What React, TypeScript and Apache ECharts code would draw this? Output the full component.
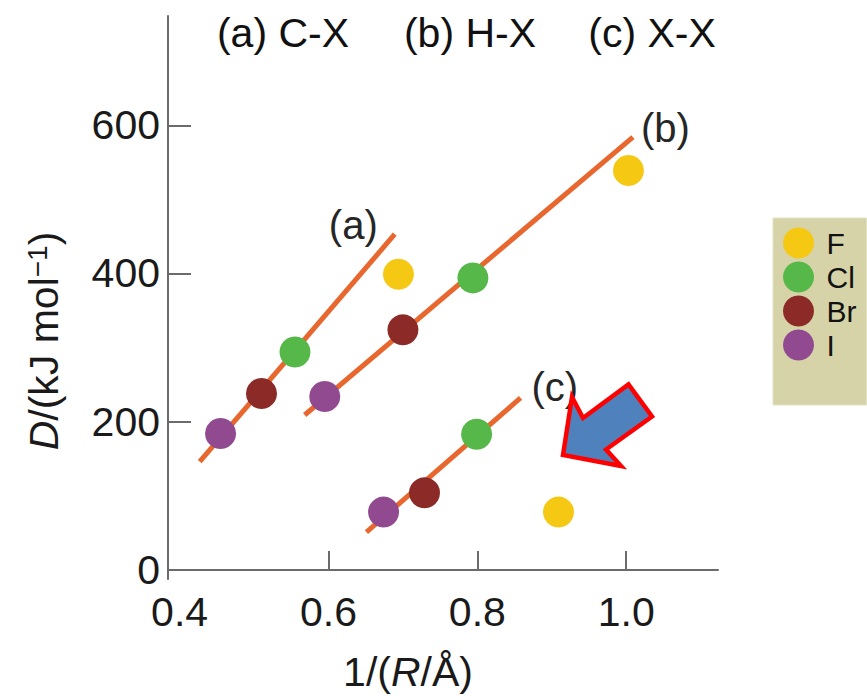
import React, { useEffect, useRef } from "react";
import * as echarts from "echarts";

const elements = ["F", "Cl", "Br", "I"];
const elementColors = ["#f5c814", "#55b848", "#8c2a27", "#914a8f"];
// (a) C-X
const cxR = [0.694, 0.555, 0.51, 0.455];
const cxD = [399, 294, 238, 184];
// (b) H-X
const hxR = [1.003, 0.794, 0.7, 0.595];
const hxD = [539, 394, 324, 234];
// (c) X-X
const xxR = [0.909, 0.799, 0.729, 0.674];
const xxD = [78, 183, 104, 78];

const fitNames = ["(a)", "(b)", "(c)"];
const fitStartR = [0.427, 0.568, 0.651];
const fitStartD = [146, 209, 51];
const fitEndR = [0.689, 1.009, 0.858];
const fitEndD = [453, 584, 232];

const panelTitles = ["(a) C-X", "(b) H-X", "(c) X-X"];
const xTickValues = [0.6, 0.8, 1.0];
const xLabelValues = [0.4, 0.6, 0.8, 1.0];
const yTickValues = [200, 400, 600];
const yLabelValues = [0, 200, 400, 600];

const FONT = "'Liberation Sans', Arial, Helvetica, sans-serif";

export default function App() {
  const ref = useRef<HTMLDivElement>(null);
  useEffect(() => {
    document.body.style.margin = "0";
    const chart = echarts.init(ref.current!, null, { renderer: "svg" });

    const labelCfg = [
      { position: "left", distance: 17, offset: [0, -9] },
      { position: "right", distance: 8, offset: [0, -9] },
      { position: "right", distance: 11, offset: [0, -11] },
    ];

    const lineSeries = fitNames.map((n, i) => ({
      type: "line",
      name: "fit" + n,
      z: 2,
      showSymbol: true,
      symbol: "circle",
      symbolSize: 0,
      silent: true,
      lineStyle: { color: "#e8672f", width: 5 },
      itemStyle: { color: "#e8672f" },
      data: [
        [fitStartR[i], fitStartD[i]],
        {
          value: [fitEndR[i], fitEndD[i]],
          label: {
            show: true,
            formatter: n,
            position: labelCfg[i].position,
            distance: labelCfg[i].distance,
            offset: labelCfg[i].offset,
            fontSize: 40,
            fontFamily: FONT,
            color: "#262626",
          },
        },
      ],
    }));

    const scatterSeries = elements.map((el, i) => ({
      type: "scatter",
      name: el,
      z: 5,
      symbol: "circle",
      symbolSize: 31,
      itemStyle: { color: elementColors[i], opacity: 1 },
      data: [
        [cxR[i], cxD[i]],
        [hxR[i], hxD[i]],
        [xxR[i], xxD[i]],
      ],
    }));

    const titleX = [283, 470, 652];

    chart.setOption({
      animation: false,
      backgroundColor: "#ffffff",
      grid: { left: 168, right: 149, top: 16, bottom: 117, containLabel: false },
      xAxis: {
        type: "value",
        min: 0.3844,
        max: 1.1233,
        axisLine: { show: true, lineStyle: { color: "#6b6b6b", width: 2 } },
        axisTick: {
          show: true,
          inside: true,
          length: 19,
          customValues: xTickValues,
          lineStyle: { color: "#6b6b6b", width: 2 },
        },
        axisLabel: {
          customValues: xLabelValues,
          formatter: (v: number) => v.toFixed(1),
          fontSize: 41,
          fontFamily: FONT,
          color: "#1a1a1a",
          margin: 12,
        },
        splitLine: { show: false },
      },
      yAxis: {
        type: "value",
        min: -12.3,
        max: 747.5,
        axisLine: { show: true, lineStyle: { color: "#6b6b6b", width: 2 } },
        axisTick: {
          show: true,
          inside: true,
          length: 23,
          customValues: yTickValues,
          lineStyle: { color: "#6b6b6b", width: 2 },
        },
        axisLabel: {
          customValues: yLabelValues,
          fontSize: 41,
          fontFamily: FONT,
          color: "#1a1a1a",
          margin: 8,
        },
        splitLine: { show: false },
      },
      legend: {
        data: elements,
        orient: "vertical",
        left: 773,
        top: 218,
        padding: [8, 10, 43, 10],
        itemGap: 0,
        itemWidth: 46,
        itemHeight: 31,
        icon: "circle",
        backgroundColor: "#d5d3a7",
        borderColor: "#e3e1c6",
        borderWidth: 1,
        borderRadius: 0,
        textStyle: {
          fontSize: 30,
          fontFamily: FONT,
          color: "#111111",
          lineHeight: 34,
        },
      },
      graphic: [
        ...panelTitles.map((t, i) => ({
          type: "text",
          x: titleX[i],
          y: 33,
          style: {
            text: t,
            fontSize: 41,
            fontFamily: FONT,
            fill: "#111111",
            align: "center",
            verticalAlign: "middle",
          },
        })),
        {
          type: "text",
          x: 408,
          y: 672,
          style: {
            text: "1/({i|R}/Å)",
            fontSize: 41,
            fontFamily: FONT,
            fill: "#1a1a1a",
            align: "center",
            verticalAlign: "middle",
            rich: {
              i: { fontSize: 41, fontFamily: FONT, fontStyle: "italic", fill: "#1a1a1a" },
            },
          },
        },
        {
          type: "text",
          x: 44,
          y: 341,
          rotation: Math.PI / 2,
          style: {
            text: "{i|D}/(kJ mol{s|−1})",
            fontSize: 41,
            fontFamily: FONT,
            fill: "#1a1a1a",
            align: "center",
            verticalAlign: "middle",
            rich: {
              i: { fontSize: 41, fontFamily: FONT, fontStyle: "italic", fill: "#1a1a1a" },
              s: { fontSize: 28, fontFamily: FONT, fill: "#1a1a1a", verticalAlign: "top" },
            },
          },
        },
        {
          type: "polygon",
          z: 100,
          shape: {
            points: [
              [563, 455],
              [572, 397],
              [583, 418],
              [628.5, 384.5],
              [652, 416.5],
              [606, 449.5],
              [621, 466],
            ],
          },
          style: { fill: "#4f81bd", stroke: "#ff0000", lineWidth: 4.5, lineJoin: "miter" },
        },
      ],
      series: [...lineSeries, ...scatterSeries],
    });
    return () => chart.dispose();
  }, []);
  return (
    <div
      ref={ref}
      style={{ position: "fixed", left: 0, top: 0, width: 867, height: 696 }}
    />
  );
}
